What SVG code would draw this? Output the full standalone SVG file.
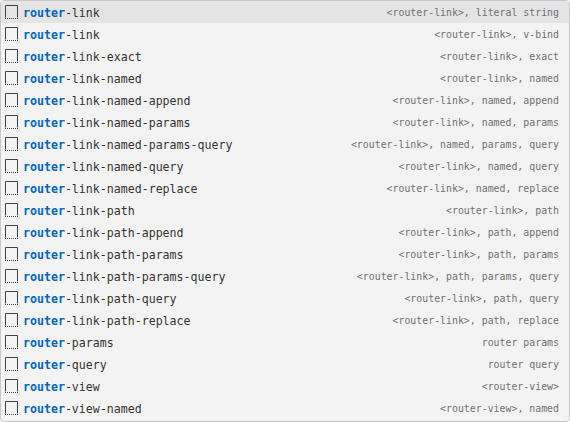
<svg xmlns="http://www.w3.org/2000/svg" width="570" height="422" viewBox="0 0 570 422">
<style>
.bg{fill:#f3f3f3;stroke:#c8c8c8;stroke-width:1}
.sel{fill:#e4e4e4}
.cb{fill:none;stroke:#424242;stroke-width:1}
.cbd{fill:none;stroke:#424242;stroke-width:1;stroke-dasharray:1 1}
.l{font-family:"DejaVu Sans Mono","Liberation Mono",monospace;font-size:11.6px;fill:#333333}
.m{font-weight:bold;fill:#0066bf}
.r{font-family:"DejaVu Sans Mono","Liberation Mono",monospace;font-size:9.9px;fill:#717171;text-anchor:end}
</style>
<defs>
<g id="icon">
<path class="cb" d="M5.5,16.5 V4.5 H17.5 V16.5"/>
<path class="cbd" d="M5 17.5 H18"/>
</g>
</defs>
<rect class="bg" x="0.5" y="0.5" width="569" height="421" rx="3"/>
<rect class="sel" x="1" y="1" width="568" height="22"/>
<g id="row0" transform="translate(0,1)"><use href="#icon"/><text class="l" x="23" y="15.5"><tspan class="m">router</tspan>-link</text><text class="r" x="559" y="15">&lt;router-link&gt;, literal string</text></g>
<g id="row1" transform="translate(0,23)"><use href="#icon"/><text class="l" x="23" y="15.5"><tspan class="m">router</tspan>-link</text><text class="r" x="559" y="15">&lt;router-link&gt;, v-bind</text></g>
<g id="row2" transform="translate(0,45)"><use href="#icon"/><text class="l" x="23" y="15.5"><tspan class="m">router</tspan>-link-exact</text><text class="r" x="559" y="15">&lt;router-link&gt;, exact</text></g>
<g id="row3" transform="translate(0,67)"><use href="#icon"/><text class="l" x="23" y="15.5"><tspan class="m">router</tspan>-link-named</text><text class="r" x="559" y="15">&lt;router-link&gt;, named</text></g>
<g id="row4" transform="translate(0,89)"><use href="#icon"/><text class="l" x="23" y="15.5"><tspan class="m">router</tspan>-link-named-append</text><text class="r" x="559" y="15">&lt;router-link&gt;, named, append</text></g>
<g id="row5" transform="translate(0,111)"><use href="#icon"/><text class="l" x="23" y="15.5"><tspan class="m">router</tspan>-link-named-params</text><text class="r" x="559" y="15">&lt;router-link&gt;, named, params</text></g>
<g id="row6" transform="translate(0,133)"><use href="#icon"/><text class="l" x="23" y="15.5"><tspan class="m">router</tspan>-link-named-params-query</text><text class="r" x="559" y="15">&lt;router-link&gt;, named, params, query</text></g>
<g id="row7" transform="translate(0,155)"><use href="#icon"/><text class="l" x="23" y="15.5"><tspan class="m">router</tspan>-link-named-query</text><text class="r" x="559" y="15">&lt;router-link&gt;, named, query</text></g>
<g id="row8" transform="translate(0,177)"><use href="#icon"/><text class="l" x="23" y="15.5"><tspan class="m">router</tspan>-link-named-replace</text><text class="r" x="559" y="15">&lt;router-link&gt;, named, replace</text></g>
<g id="row9" transform="translate(0,199)"><use href="#icon"/><text class="l" x="23" y="15.5"><tspan class="m">router</tspan>-link-path</text><text class="r" x="559" y="15">&lt;router-link&gt;, path</text></g>
<g id="row10" transform="translate(0,221)"><use href="#icon"/><text class="l" x="23" y="15.5"><tspan class="m">router</tspan>-link-path-append</text><text class="r" x="559" y="15">&lt;router-link&gt;, path, append</text></g>
<g id="row11" transform="translate(0,243)"><use href="#icon"/><text class="l" x="23" y="15.5"><tspan class="m">router</tspan>-link-path-params</text><text class="r" x="559" y="15">&lt;router-link&gt;, path, params</text></g>
<g id="row12" transform="translate(0,265)"><use href="#icon"/><text class="l" x="23" y="15.5"><tspan class="m">router</tspan>-link-path-params-query</text><text class="r" x="559" y="15">&lt;router-link&gt;, path, params, query</text></g>
<g id="row13" transform="translate(0,287)"><use href="#icon"/><text class="l" x="23" y="15.5"><tspan class="m">router</tspan>-link-path-query</text><text class="r" x="559" y="15">&lt;router-link&gt;, path, query</text></g>
<g id="row14" transform="translate(0,309)"><use href="#icon"/><text class="l" x="23" y="15.5"><tspan class="m">router</tspan>-link-path-replace</text><text class="r" x="559" y="15">&lt;router-link&gt;, path, replace</text></g>
<g id="row15" transform="translate(0,331)"><use href="#icon"/><text class="l" x="23" y="15.5"><tspan class="m">router</tspan>-params</text><text class="r" x="559" y="15">router params</text></g>
<g id="row16" transform="translate(0,353)"><use href="#icon"/><text class="l" x="23" y="15.5"><tspan class="m">router</tspan>-query</text><text class="r" x="559" y="15">router query</text></g>
<g id="row17" transform="translate(0,375)"><use href="#icon"/><text class="l" x="23" y="15.5"><tspan class="m">router</tspan>-view</text><text class="r" x="559" y="15">&lt;router-view&gt;</text></g>
<g id="row18" transform="translate(0,397)"><use href="#icon"/><text class="l" x="23" y="15.5"><tspan class="m">router</tspan>-view-named</text><text class="r" x="559" y="15">&lt;router-view&gt;, named</text></g>
</svg>
